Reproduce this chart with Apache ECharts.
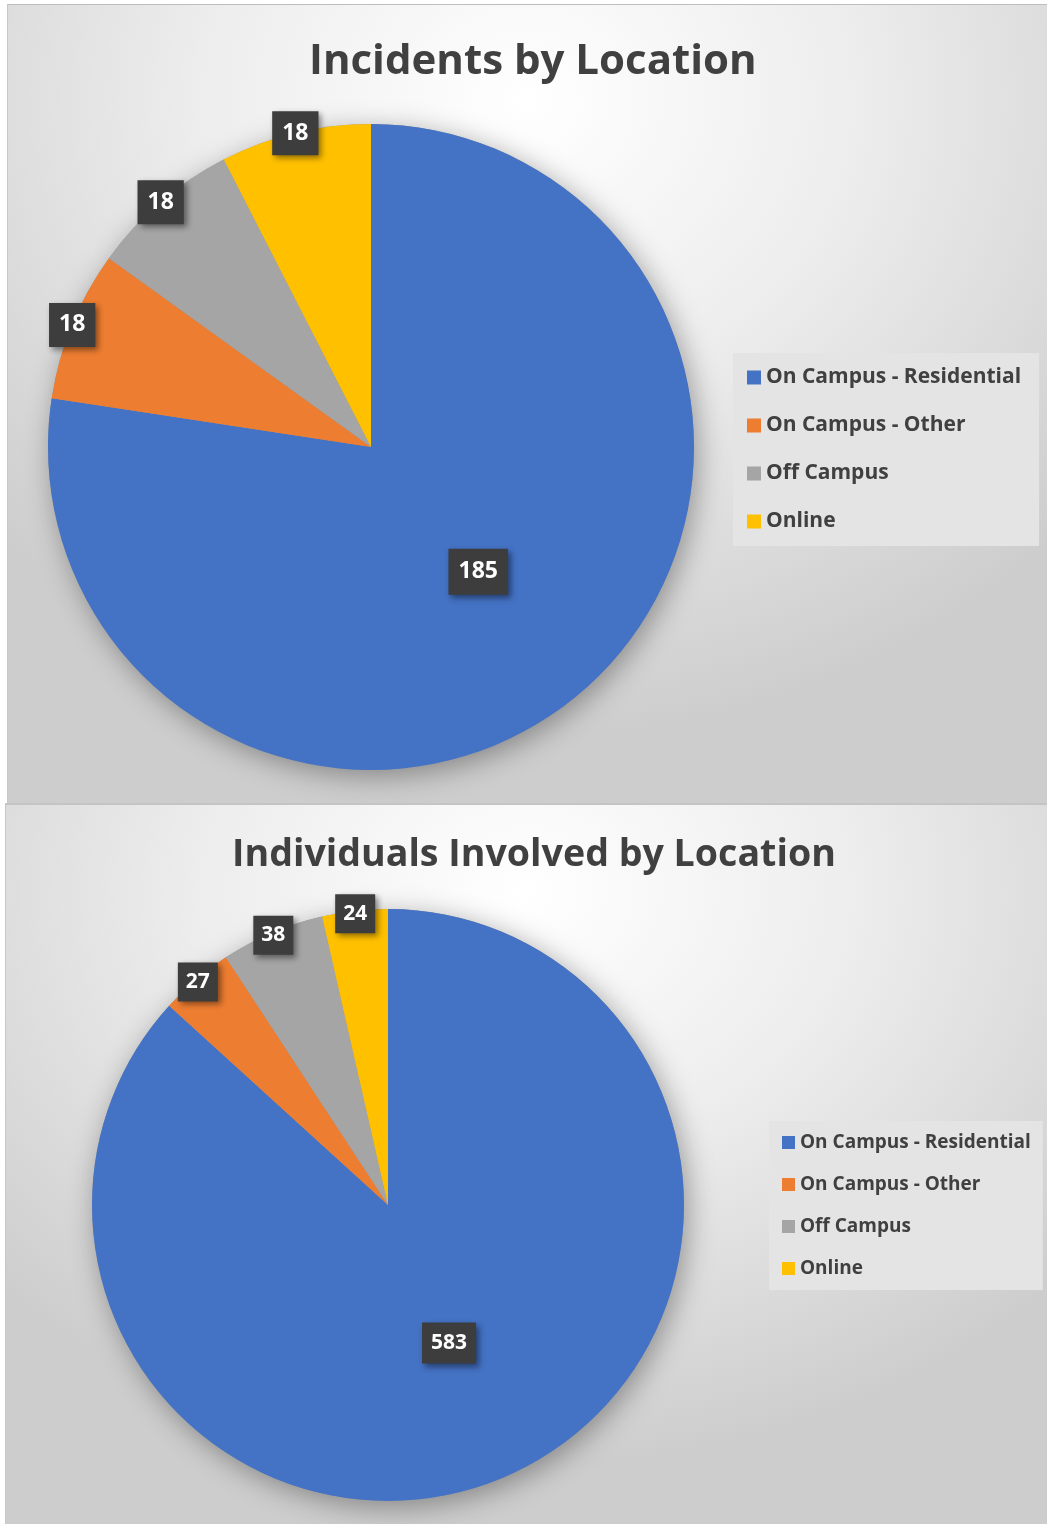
<!DOCTYPE html>
<html>
<head>
<meta charset="utf-8">
<title>Incidents by Location</title>
<script src="https://cdn.jsdelivr.net/npm/echarts@6/dist/echarts.min.js"></script>
<style>
  html, body { margin: 0; padding: 0; background: #ffffff; }
  body { width: 1047px; height: 1524px; position: relative; overflow: hidden; }
  .panel {
    position: absolute;
    box-sizing: border-box;
    background: radial-gradient(ellipse 70% 80% at 50% 12%, #ffffff 0%, #ededed 45%, #cdcdcd 100%);
  }
  #top { left: 7px; top: 4px; width: 1040px; height: 799px; border-top: 1px solid #bdbdbd; border-left: 1px solid #c8c8c8; }
  #bottom { left: 5px; top: 803px; width: 1042px; height: 721px; border-top: 2px solid #c4c4c4; border-left: 1px solid #c8c8c8; }
</style>
</head>
<body>
<div id="top" class="panel"></div>
<div id="bottom" class="panel"></div>
<script>
const locations = ["On Campus - Residential", "On Campus - Other", "Off Campus", "Online"];
const incidents = [185, 18, 18, 18];
const individuals = [583, 27, 38, 24];
const colors = ["#4472C4", "#ED7D31", "#A5A5A5", "#FFC000"];

const fontFamily = "'Open Sans', 'Noto Sans', sans-serif";

function labelBox(fontSize, lineHeight, padding) {
  return {
    formatter: "{c}",
    color: "#ffffff",
    fontFamily: fontFamily,
    fontWeight: "bold",
    fontSize: fontSize,
    lineHeight: lineHeight,
    backgroundColor: "#3d3d3d",
    padding: padding,
    shadowBlur: 6,
    shadowOffsetX: 3,
    shadowOffsetY: 3,
    shadowColor: "rgba(0,0,0,0.45)"
  };
}

function buildOption(cfg) {
  const pieData = cfg.values.map((v, i) => ({
    name: locations[i],
    value: v,
    label: { show: i === 0 }
  }));
  const ringData = cfg.values.map((v, i) => ({
    name: locations[i],
    value: v,
    label: { show: i > 0 }
  }));
  return {
    animation: false,
    color: colors,
    title: {
      text: cfg.title,
      left: cfg.titleLeft,
      top: cfg.titleTop,
      textStyle: {
        fontFamily: fontFamily,
        fontWeight: "bold",
        fontSize: cfg.titleSize,
        color: "#404040"
      }
    },
    legend: {
      orient: "vertical",
      left: cfg.legendLeft,
      top: cfg.legendTop,
      data: locations,
      icon: "rect",
      itemWidth: cfg.iconSize,
      itemHeight: cfg.iconSize,
      itemGap: cfg.legendGap,
      backgroundColor: "#e4e4e4",
      padding: cfg.legendPadding,
      textStyle: {
        fontFamily: fontFamily,
        fontWeight: "bold",
        fontSize: cfg.legendSize,
        color: "#404040"
      }
    },
    series: [
      {
        name: cfg.title,
        type: "pie",
        z: 3,
        center: cfg.center,
        radius: [0, cfg.radius],
        startAngle: 90,
        clockwise: true,
        avoidLabelOverlap: false,
        label: Object.assign({ position: "inside" }, labelBox(cfg.labelSize, cfg.labelLine, cfg.bigPad)),
        labelLine: { show: false },
        itemStyle: { borderWidth: 0 },
        emphasis: { scale: false },
        data: pieData
      },
      {
        // soft halo under the pie
        name: "shadow",
        type: "pie",
        z: 1,
        silent: true,
        center: cfg.center,
        radius: [0, cfg.radius],
        startAngle: 90,
        label: { show: false },
        labelLine: { show: false },
        itemStyle: { color: "#9a9a9a", shadowBlur: 28, shadowOffsetX: 4, shadowOffsetY: 6, shadowColor: "rgba(0,0,0,0.35)" },
        emphasis: { disabled: true },
        data: cfg.values.map((v, i) => ({ name: "s" + i, value: v }))
      },
      {
        // label ring along the pie edge
        name: "labels",
        type: "pie",
        z: 4,
        silent: true,
        center: cfg.center,
        radius: [cfg.radius * (cfg.ringMid - 0.04), cfg.radius * (cfg.ringMid + 0.04)],
        startAngle: 90,
        avoidLabelOverlap: false,
        labelLayout: { hideOverlap: false },
        label: Object.assign({ position: "inside" }, labelBox(cfg.labelSize, cfg.labelLine, cfg.smallPad)),
        labelLine: { show: false },
        itemStyle: { color: "rgba(0,0,0,0)" },
        emphasis: { disabled: true },
        data: ringData
      }
    ]
  };
}

const topChart = echarts.init(document.getElementById("top"));
topChart.setOption(buildOption({
  title: "Incidents by Location",
  values: incidents,
  titleLeft: 296,
  titleTop: 31,
  titleSize: 42,
  center: [363, 442],
  radius: 323,
  ringMid: 0.99,
  legendLeft: 725,
  legendTop: 348,
  legendGap: 27,
  legendPadding: [14, 18, 14, 14],
  iconSize: 14,
  legendSize: 21,
  labelSize: 23,
  labelLine: 27,
  bigPad: [10, 10, 9, 10],
  smallPad: [9, 10, 8, 10]
}));

const bottomChart = echarts.init(document.getElementById("bottom"));
bottomChart.setOption(buildOption({
  title: "Individuals Involved by Location",
  values: individuals,
  titleLeft: 221,
  titleTop: 26,
  titleSize: 37.6,
  center: [382, 400],
  radius: 296,
  ringMid: 0.98,
  legendLeft: 763,
  legendTop: 316,
  legendGap: 23,
  legendPadding: [12, 12, 12, 13],
  iconSize: 13,
  legendSize: 19,
  labelSize: 21,
  labelLine: 24,
  bigPad: [9, 9, 8, 9],
  smallPad: [8, 8, 7, 8]
}));
</script>
</body>
</html>
